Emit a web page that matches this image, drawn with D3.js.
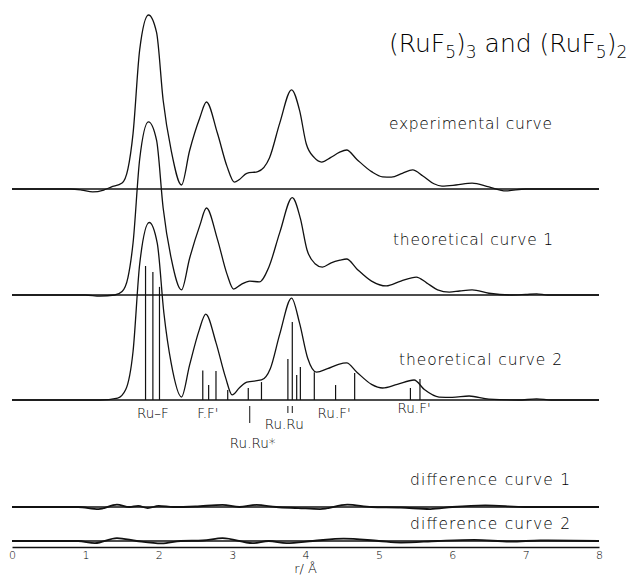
<!DOCTYPE html>
<html>
<head>
<meta charset="utf-8">
<script src="https://cdnjs.cloudflare.com/ajax/libs/d3/7.8.5/d3.min.js"></script>
<style>
  body { margin: 0; background: #fff; }
  svg text { font-family: 'DejaVu Sans', sans-serif; font-weight: 200; fill: #000; }
</style>
</head>
<body>
<svg id="chart" width="631" height="577"></svg>
<script>
// r / Angstrom ticks
var rTicks = [0, 1, 2, 3, 4, 5, 6, 7, 8];

// curves: [r, intensity] (experimental Ru-F peak = 100)
var expCurve = [[0,0],[0.8,0],[0.95,-0.6],[1.1,-1.7],[1.25,-0.6],[1.35,1.1],[1.5,3.4],[1.58,11.5],[1.65,32],[1.74,80],[1.86,100],[1.97,90],[2.06,51],[2.17,22],[2.31,2.3],[2.42,22],[2.56,41],[2.65,50],[2.8,32],[2.93,13],[3.03,4],[3.1,5.5],[3.2,9],[3.35,10],[3.51,18],[3.65,38],[3.81,57],[3.92,45],[4.01,26],[4.12,18],[4.22,15.5],[4.34,18],[4.46,21],[4.56,22.4],[4.7,17],[4.9,10],[5.05,7],[5.17,6.8],[5.32,9],[5.46,11],[5.6,7.5],[5.75,3],[5.86,1.7],[6.05,2.3],[6.27,3.4],[6.5,1.2],[6.73,-1.1],[7.0,0],[8,0]];

var theo1Curve = [[0,0],[1.0,0],[1.2,-0.6],[1.4,0],[1.5,2],[1.58,10],[1.65,30],[1.74,78],[1.86,99.5],[1.97,89],[2.06,50],[2.17,21],[2.31,2.9],[2.42,21],[2.56,40],[2.65,50],[2.8,32],[2.93,12],[3.02,3.4],[3.12,6],[3.24,8],[3.37,7.5],[3.5,16],[3.65,36],[3.82,56],[3.93,44],[4.02,26],[4.13,18],[4.23,16],[4.35,18.5],[4.47,20],[4.56,20.7],[4.7,15],[4.9,8],[5.1,5.2],[5.3,8],[5.51,10.3],[5.65,7],[5.8,3],[5.96,1.7],[6.1,2.3],[6.27,2.9],[6.5,1],[6.8,0],[7.0,0.3],[7.15,0.6],[7.3,0],[8,0]];

var theo2Curve = [[0,0],[1.2,0],[1.44,1.1],[1.55,6],[1.65,28],[1.74,78],[1.87,102],[1.98,90],[2.07,50],[2.17,21],[2.31,1.7],[2.42,20],[2.55,40],[2.64,49.4],[2.78,33],[2.91,13],[3.0,2.9],[3.1,7],[3.2,10.3],[3.4,11.5],[3.52,18],[3.65,38],[3.81,58.6],[3.92,44],[4.03,24],[4.15,16],[4.3,18],[4.45,20.5],[4.56,21.3],[4.7,16],[4.9,9],[5.05,6.9],[5.25,9],[5.48,11.5],[5.62,6],[5.82,1.7],[6.0,1.5],[6.23,2.3],[6.5,0.5],[6.9,0],[7.15,0.6],[7.35,0],[8,0]];

var diff1Curve = [[0,0],[0.9,0],[1.18,-1.2],[1.43,1.4],[1.6,0],[1.72,0.6],[1.85,-0.6],[2.0,0.6],[2.2,0],[2.5,0.3],[2.87,1.2],[3.1,0],[3.33,1.2],[3.6,0],[3.9,-0.6],[4.2,-1.2],[4.57,1.4],[4.9,0],[5.3,-0.3],[5.7,-1.2],[6.0,0],[6.45,0.9],[7.0,0],[8,0]];

var diff2Curve = [[0,0],[0.9,0],[1.13,-1.2],[1.43,1.7],[1.7,0],[2.04,-1.4],[2.3,0],[2.6,0.3],[2.87,1.7],[3.28,-1.2],[3.5,0],[3.74,-1.2],[4.1,0],[4.52,1.4],[5.0,0],[5.3,-0.9],[5.8,0],[6.3,0.6],[6.8,-0.3],[7.2,0.3],[8,0]];

// distance sticks under theoretical curve 2
var stickR = [1.82, 1.92, 2.01, 2.60, 2.68, 2.78, 2.94, 3.22, 3.40, 3.76, 3.82, 3.88, 3.93, 4.12, 4.41, 4.67, 5.43, 5.56];
var stickH = [77, 73.6, 65, 17, 8.6, 16.7, 5.7, 6.9, 10.3, 23.6, 44.8, 14.4, 19, 16, 8.6, 15.5, 6.9, 12];

// distance labels and their marks below the baseline
var distLabels = ["Ru\u2013F", "F.F'", "Ru.Ru", "Ru.Ru*", "Ru.F'", "Ru.F'"];
var distLabelR = [1.92, 2.67, 3.71, 3.28, 4.39, 5.48];
var markR = [3.24, 3.76, 3.82];

var curveNames = ["experimental curve", "theoretical curve 1", "theoretical curve 2", "difference curve 1", "difference curve 2"];

var svg = d3.select("#chart");

var x = d3.scaleLinear().domain([0, 8]).range([12, 599]);
var h = d3.scaleLinear().domain([0, 100]).range([0, 174]);

function draw_curve(data, base, width){
  svg.append("line")
     .attr("x1", x(0)).attr("x2", x(8))
     .attr("y1", base).attr("y2", base)
     .attr("stroke", "#111").attr("stroke-width", 1.3);

  var line = d3.line()
               .x(function(d){ return x(d[0]); })
               .y(function(d){ return base - h(d[1]); })
               .curve(d3.curveMonotoneX);

  svg.append("path")
     .datum(data)
     .attr("d", line)
     .attr("fill", "none")
     .attr("stroke", "#111")
     .attr("stroke-width", width);
}

draw_curve(expCurve, 189, 1.3);
draw_curve(theo1Curve, 295, 1.3);
draw_curve(theo2Curve, 400, 1.3);
draw_curve(diff1Curve, 507, 1.8);
draw_curve(diff2Curve, 541, 1.8);

// sticks
svg.selectAll("line.stick")
   .data(stickR)
   .enter()
   .append("line")
   .attr("class", "stick")
   .attr("x1", function(d){ return x(d); })
   .attr("x2", function(d){ return x(d); })
   .attr("y1", 400)
   .attr("y2", function(d, i){ return 400 - h(stickH[i]); })
   .attr("stroke", "#111")
   .attr("stroke-width", 1.2);

// small marks under the baseline (Ru.Ru* and Ru.Ru)
svg.selectAll("line.mark")
   .data(markR)
   .enter()
   .append("line")
   .attr("class", "mark")
   .attr("x1", function(d){ return x(d); })
   .attr("x2", function(d){ return x(d); })
   .attr("y1", 406)
   .attr("y2", function(d, i){ return i == 0 ? 423 : 413; })
   .attr("stroke", "#111")
   .attr("stroke-width", 1);

var labelY = [418, 418, 429, 448, 418, 413];
svg.selectAll("text.dist")
   .data(distLabels)
   .enter()
   .append("text")
   .attr("class", "dist")
   .attr("x", function(d, i){ return x(distLabelR[i]); })
   .attr("y", function(d, i){ return labelY[i]; })
   .attr("text-anchor", "middle")
   .attr("font-size", 13.5)
   .text(function(d){ return d; });

// curve names
var nameX = [389, 393, 399, 410, 410];
var nameY = [129, 245, 365, 485, 529];
var nameW = [163, 160, 163, 160, 160];
svg.selectAll("text.name")
   .data(curveNames)
   .enter()
   .append("text")
   .attr("class", "name")
   .attr("x", function(d, i){ return nameX[i]; })
   .attr("y", function(d, i){ return nameY[i]; })
   .attr("font-size", 15.5)
   .attr("textLength", function(d, i){ return nameW[i]; })
   .attr("lengthAdjust", "spacing")
   .text(function(d){ return d; });

// title with subscripts
var titleParts = [["(RuF", 0], ["5", 1], [")", 0], ["3", 1], [" and (RuF", 0], ["5", 1], [")", 0], ["2", 1]];
var title = svg.append("text").attr("x", 389).attr("y", 52);
var shifted = 0;
titleParts.forEach(function(p){
  var dy = p[1] ? 6 - shifted : -shifted;
  shifted = p[1] ? 6 : 0;
  title.append("tspan")
       .attr("dy", dy)
       .attr("font-size", p[1] ? 17 : 25)
       .text(p[0]);
});

// r axis
var axis = svg.append("g")
   .attr("transform", "translate(0,547)")
   .call(d3.axisBottom(x).tickValues(rTicks).tickSize(0).tickSizeOuter(0).tickPadding(4).tickFormat(d3.format("d")));
axis.select(".domain").attr("stroke", "#111").attr("stroke-width", 1.3);
axis.selectAll("text").attr("font-size", 11);

svg.append("text")
   .attr("x", x(4))
   .attr("y", 573)
   .attr("text-anchor", "middle")
   .attr("font-size", 13)
   .text("r/ \u00c5");
</script>
</body>
</html>
